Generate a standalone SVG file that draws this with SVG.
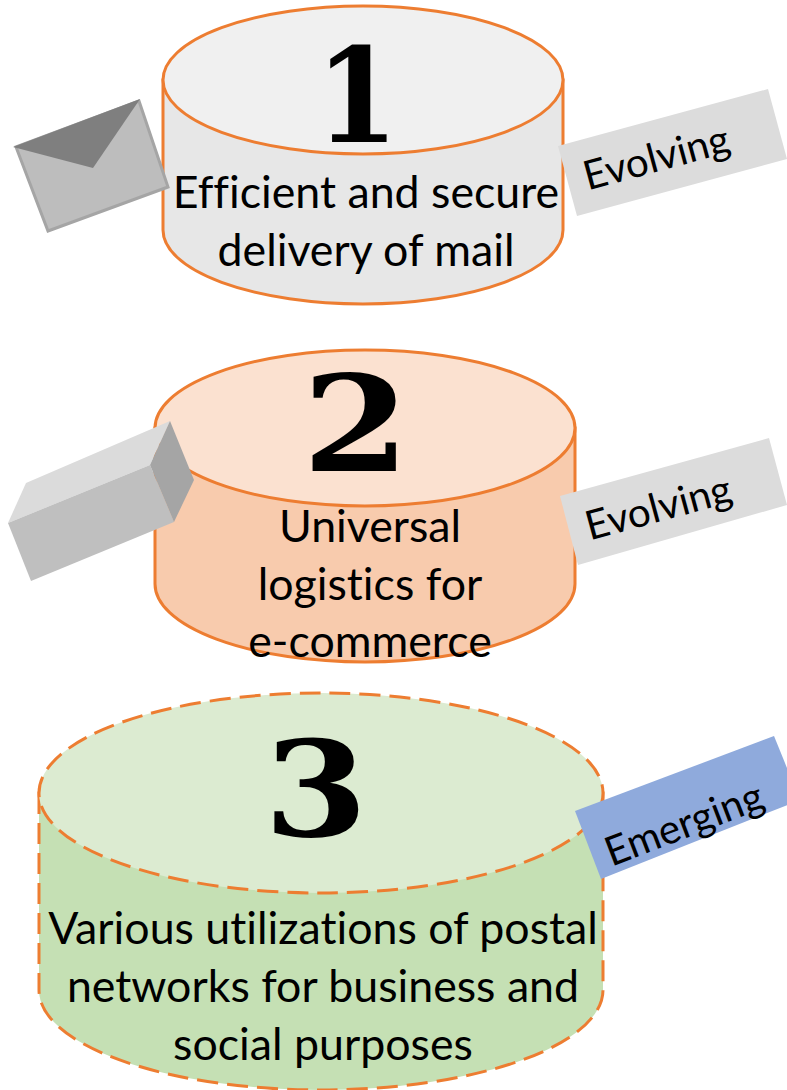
<svg xmlns="http://www.w3.org/2000/svg" width="787" height="1090" viewBox="0 0 787 1090">
<style>
.cyl{stroke:#ed7d31;stroke-width:3}
.dash{stroke-dasharray:21 9}
.t{font-family:Lato,"Open Sans",sans-serif;font-size:44.7px;fill:#000;text-anchor:middle;font-variant-ligatures:none}
.n{font-family:"DejaVu Serif",serif;font-weight:bold;font-size:132px;fill:#000;text-anchor:middle}
.tag{font-family:Lato,"Open Sans",sans-serif;font-size:40.5px;fill:#000;text-anchor:middle}
</style>
<rect width="787" height="1090" fill="#fff"/>
<g id="connectors"></g>
<g id="node1">
<path class="cyl" fill="#e7e7e7" d="M163 80V230A200 74 0 0 0 563 230V80Z"/>
<ellipse class="cyl" fill="#f0f0f0" cx="363" cy="80" rx="200" ry="74"/>
<text class="n" transform="translate(357,142) scale(.9,1)">1</text>
<text class="t" x="366" y="208">Efficient and secure</text>
<text class="t" x="366" y="266">delivery of mail</text>
</g>
<g id="node2">
<path class="cyl" fill="#f8cbad" d="M155 428V584A210 78 0 0 0 575 584V428Z"/>
<ellipse class="cyl" fill="#fbe1d0" cx="365" cy="428" rx="210" ry="78"/>
<text class="n" transform="translate(356,471) scale(1.17,1)">2</text>
<text class="t" x="370" y="542">Universal</text>
<text class="t" x="370" y="600">logistics for</text>
<text class="t" x="370" y="657">e-commerce</text>
</g>
<g id="node3">
<path class="cyl dash" fill="#c5e0b4" d="M39 793V990A282 100 0 0 0 603 990V793Z"/>
<ellipse class="cyl dash" fill="#dcebd1" cx="321" cy="793" rx="282" ry="100"/>
<text class="n" transform="translate(316,836) scale(1.13,1)">3</text>
<text class="t" x="323" y="944">Various utilizations of postal</text>
<text class="t" x="323" y="1002">networks for business and</text>
<text class="t" x="323" y="1060">social purposes</text>
</g>
<g id="envelope">
<polygon points="16,147 139,101 168,187 48,231" fill="#bdbdbd" stroke="#a5a5a5" stroke-width="3"/>
<polygon points="13,147 140,99 93,168" fill="#7f7f7f"/>
</g>
<g id="parcel">
<polygon points="8,523 26,483 170,421 150,465" fill="#dbdbdb"/>
<polygon points="8,523 150,465 174,522 31,581" fill="#bfbfbf"/>
<polygon points="150,465 170,421 194,480 174,522" fill="#a5a5a5"/>
</g>
<g id="tag1">
<polygon points="558,146 768,89 787,159 577,216" fill="#dcdcdc"/>
<text class="tag" transform="translate(660,171) rotate(-15.2)">Evolving</text>
</g>
<g id="tag2">
<polygon points="560,496 769,438 787,505 578,565" fill="#dcdcdc"/>
<text class="tag" transform="translate(662,521) rotate(-15.2)">Evolving</text>
</g>
<g id="tag3">
<polygon points="575,811 774,736 800,800 601,879" fill="#8faadc"/>
<text class="tag" transform="translate(689,837) rotate(-21)">Emerging</text>
</g>
</svg>
